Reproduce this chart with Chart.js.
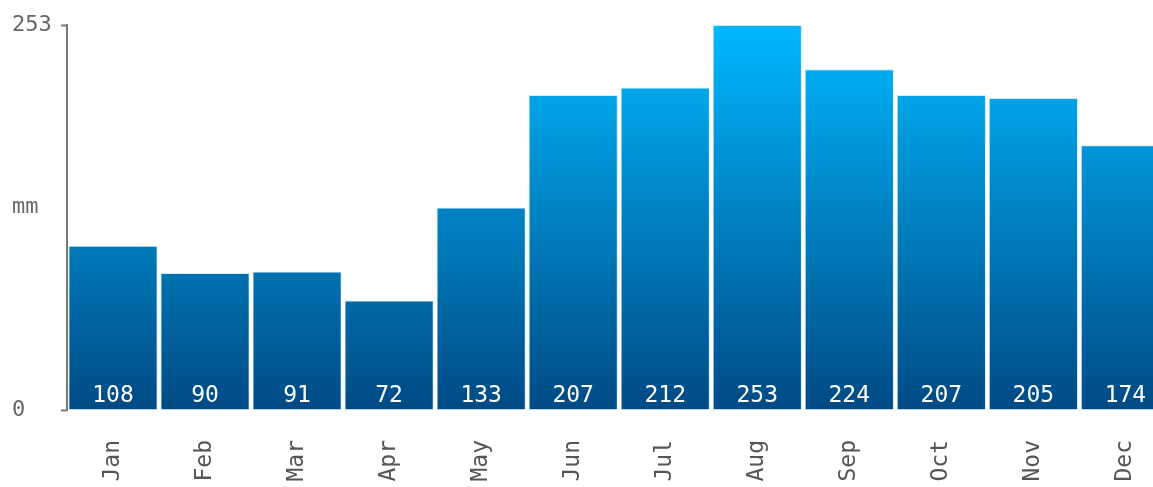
<!DOCTYPE html>
<html>
<head>
<meta charset="utf-8">
<script src="https://cdn.jsdelivr.net/npm/chart.js@4"></script>
<style>
  html, body { margin: 0; padding: 0; background: #fff; overflow: hidden; }
  #wrap { width: 1183px; height: 487px; position: relative; }
</style>
</head>
<body>
<div id="wrap"><canvas id="rainChart"></canvas></div>
<script>
const months = ['Jan', 'Feb', 'Mar', 'Apr', 'May', 'Jun', 'Jul', 'Aug', 'Sep', 'Oct', 'Nov', 'Dec'];
const rainfall = [108, 90, 91, 72, 133, 207, 212, 253, 224, 207, 205, 174];
const yMax = 253;
const unitLabel = 'mm';

const monoFont = "'DejaVu Sans Mono', 'Liberation Mono', monospace";
const ctx = document.getElementById('rainChart').getContext('2d');

function barGradient(context) {
    const area = context.chart.chartArea;
    if (!area) return '#0077bb';
    const g = context.chart.ctx.createLinearGradient(0, area.bottom, 0, area.top);
    g.addColorStop(0, '#004a84');
    g.addColorStop(1, '#00b8ff');
    return g;
}

// white numbers near the foot of each bar
const valueLabels = {
    id: 'valueLabels',
    afterDatasetsDraw(chart) {
        const c = chart.ctx;
        const meta = chart.getDatasetMeta(0);
        c.save();
        c.font = '23px ' + monoFont;
        c.fillStyle = '#ffffff';
        c.textAlign = 'center';
        c.textBaseline = 'alphabetic';
        meta.data.forEach((bar, i) => {
            c.fillText(String(rainfall[i]), bar.x, chart.chartArea.bottom - 8);
        });
        c.restore();
    }
};

new Chart(ctx, {
    type: 'bar',
    data: {
        labels: months,
        datasets: [{
            data: rainfall,
            backgroundColor: barGradient,
            borderColor: '#cdeeff',
            borderWidth: 1,
            barPercentage: 0.97,
            categoryPercentage: 1
        }]
    },
    options: {
        responsive: true,
        maintainAspectRatio: false,
        animation: false,
        layout: { padding: { top: 25, left: 12, right: 0, bottom: 0 } },
        plugins: {
            legend: { display: false },
            tooltip: { enabled: false }
        },
        scales: {
            x: {
                grid: { display: false, drawTicks: false },
                border: { display: false },
                ticks: {
                    color: '#555',
                    font: { family: monoFont, size: 23 },
                    minRotation: 90,
                    maxRotation: 90,
                    padding: 30,
                    autoSkip: false
                },
                afterFit(scale) { scale.height = 77; }
            },
            y: {
                min: 0,
                max: yMax,
                afterBuildTicks(scale) {
                    scale.ticks = [{ value: 0 }, { value: 133 }, { value: yMax }];
                },
                ticks: {
                    color: '#666',
                    font: { family: monoFont, size: 22 },
                    crossAlign: 'far',
                    padding: 4,
                    callback: (v, i) => (i === 1 ? unitLabel : v)
                },
                grid: {
                    drawOnChartArea: false,
                    tickLength: 6,
                    tickWidth: 2,
                    tickColor: (c) => (c.index === 1 ? 'rgba(0,0,0,0)' : '#777')
                },
                border: { color: '#777', width: 2 },
                afterFit(scale) { scale.width = 55; }
            }
        }
    },
    plugins: [valueLabels]
});
</script>
</body>
</html>
